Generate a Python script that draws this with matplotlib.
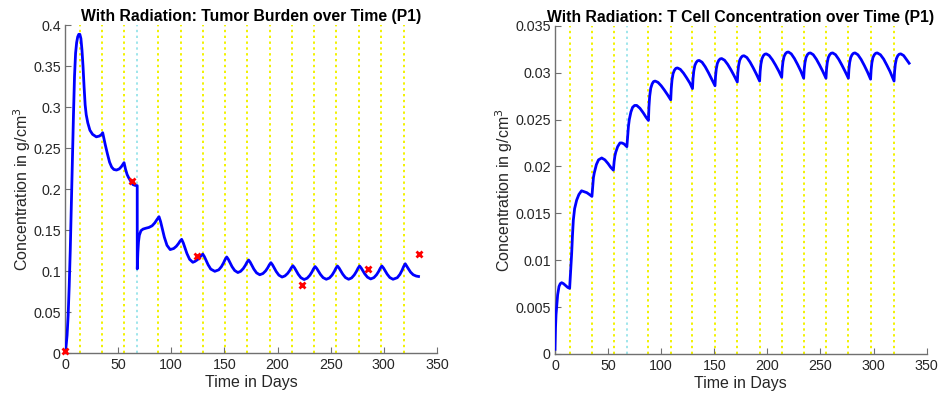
import matplotlib
matplotlib.use("Agg")
import matplotlib.pyplot as plt

plt.rcParams['font.family'] = ['Liberation Sans', 'DejaVu Sans']

# ---------------- data ----------------
dose_days = [14, 35, 56, 88, 109, 129.5, 150.7, 171.7, 192.7, 213.5, 234.2,
             255.2, 276.3, 297.2, 319.3]
surgery_day = 68

tumor_days = [
    0, 1, 2, 3, 4, 5, 6, 7, 8, 9, 10, 11, 12, 13, 14, 15, 16, 17, 18, 19, 20,
    21.5, 23.5, 26, 29.5, 32.5, 34.5, 35.5, 36.5, 38, 40, 42, 44, 46, 48.5, 51,
    53, 55.6, 57, 58.5, 60, 62, 64, 66, 68, 68.05, 68.6, 69.2, 70, 71.5, 73.5,
    76, 79, 82, 84.5, 86.5, 88.5,
    90.0, 91.5, 93.5, 96.0, 99.0, 102.3, 104.8, 106.8, 108.3, 109.8,
    111.3, 112.8, 114.8, 117.3, 120.3, 122.2, 124.7, 126.7, 128.2, 129.7,
    131.2, 132.7, 134.7, 137.2, 141.0, 144.7, 147.2, 149.2, 150.7, 152.2,
    153.7, 155.2, 157.2, 159.7, 162.7, 165.3, 167.8, 169.8, 171.3, 172.8,
    174.3, 175.8, 177.8, 180.3, 183.3, 186.3, 188.8, 190.8, 192.3, 193.8,
    195.3, 196.8, 198.8, 201.3, 204.3, 207.0, 209.5, 211.5, 213.0, 214.5,
    216.0, 217.5, 219.5, 222.0, 225.0, 227.9, 230.4, 232.4, 233.9, 235.4,
    236.9, 238.4, 240.4, 242.9, 245.9, 248.9, 251.4, 253.4, 254.9, 256.4,
    257.9, 259.4, 261.4, 263.9, 266.9, 269.7, 272.2, 274.2, 275.7, 277.2,
    278.7, 280.2, 282.2, 284.7, 287.7, 290.7, 293.2, 295.2, 296.7, 298.2,
    299.7, 301.2, 303.2, 305.7, 308.7, 312.7, 315.2, 317.2, 318.7, 320.2,
    321.7, 323.2, 325.2, 327.7, 330.5, 332.7]
tumor_vals = [
    0.003, 0.008, 0.022, 0.046, 0.082, 0.126, 0.178, 0.235, 0.290, 0.338,
    0.366, 0.379, 0.386, 0.389, 0.389, 0.384, 0.370, 0.350, 0.325, 0.303,
    0.291, 0.281, 0.272, 0.267, 0.264, 0.265, 0.267, 0.269, 0.263, 0.254,
    0.243, 0.233, 0.227, 0.2242, 0.2235, 0.2248, 0.2275, 0.2325, 0.2245,
    0.218, 0.214, 0.2095, 0.2058, 0.2048, 0.2045, 0.103, 0.123, 0.136, 0.144,
    0.1495, 0.1515, 0.1525, 0.1535, 0.1555, 0.159, 0.163, 0.1666,
    0.1606, 0.1526, 0.1417, 0.1317, 0.1265, 0.1278, 0.1305, 0.1338, 0.1368, 0.139,
    0.1348, 0.1292, 0.1216, 0.1146, 0.1110, 0.1120, 0.1142, 0.1168, 0.1192, 0.1210,
    0.1179, 0.1137, 0.1080, 0.1027, 0.1000, 0.1018, 0.1056, 0.1102, 0.1144, 0.1175,
    0.1147, 0.1109, 0.1057, 0.1010, 0.0985, 0.1000, 0.1034, 0.1074, 0.1111, 0.1138,
    0.1111, 0.1075, 0.1026, 0.0981, 0.0958, 0.0973, 0.1005, 0.1043, 0.1079, 0.1105,
    0.1079, 0.1044, 0.0997, 0.0953, 0.0930, 0.0944, 0.0974, 0.1010, 0.1043, 0.1068,
    0.1043, 0.1009, 0.0964, 0.0922, 0.0900, 0.0916, 0.0951, 0.0992, 0.1030, 0.1058,
    0.1035, 0.1004, 0.0962, 0.0923, 0.0903, 0.0919, 0.0955, 0.0997, 0.1036, 0.1065,
    0.1041, 0.1008, 0.0965, 0.0924, 0.0903, 0.0919, 0.0955, 0.0997, 0.1036, 0.1065,
    0.1041, 0.1010, 0.0967, 0.0928, 0.0907, 0.0923, 0.0958, 0.0999, 0.1037, 0.1065,
    0.1041, 0.1008, 0.0965, 0.0924, 0.0903, 0.0922, 0.0963, 0.1013, 0.1058, 0.1092,
    0.1060, 0.1030, 0.0990, 0.0958, 0.0942, 0.0937]

obs_days = [0, 62.8, 124, 222.8, 285.3, 333.3]
obs_vals = [0.003, 0.210, 0.119, 0.0833, 0.1024, 0.1215]

tcell_days = [
    0, 0.5, 1, 1.6, 2.5, 3.8, 5, 6.3, 8, 10, 12, 13.8, 14.3, 15, 15.7, 16.5,
    17.3, 18.5, 20.4, 22.5, 25, 27.5, 30, 32.5, 34.8, 35.5, 36.2, 37, 39, 41,
    44, 47, 50, 52.5, 55, 55.7, 56.4, 57.2, 59, 61.2, 63, 65, 67.7, 68.5, 69.2,
    70, 71.5, 73.1, 75, 77, 80, 83.2, 86, 88,
    88.5, 89.2, 90.2, 91.5, 92.8, 94.3, 97, 100, 103, 106, 109,
    109.5, 110.2, 111.2, 112.5, 113.8, 115.3, 118, 121, 124, 127, 129.5,
    130, 130.7, 131.7, 133, 134.3, 135.8, 138.5, 141.5, 144.5, 147.5, 150.7,
    151.2, 151.9, 152.9, 154.2, 155.5, 157, 159.7, 162.7, 165.7, 168.7, 171.7,
    172.2, 172.9, 173.9, 175.2, 176.5, 178, 180.7, 183.7, 186.7, 189.7, 192.7,
    193.2, 193.9, 194.9, 196.2, 197.5, 199, 201.7, 204.7, 207.7, 210.7, 213.5,
    214, 214.7, 215.7, 217, 218.3, 219.8, 222.5, 225.5, 228.5, 231.5, 234.2,
    234.7, 235.4, 236.4, 237.7, 239, 240.5, 243.2, 246.2, 249.2, 252.2, 255.2,
    255.7, 256.4, 257.4, 258.7, 260, 261.5, 264.2, 267.2, 270.2, 273.2, 276.3,
    276.8, 277.5, 278.5, 279.8, 281.1, 282.6, 285.3, 288.3, 291.3, 294.3, 297.2,
    297.7, 298.4, 299.4, 300.7, 302, 303.5, 306.5, 309.5, 312.5, 315.5, 319.3,
    319.8, 320.5, 321.5, 322.8, 324.1, 325.6, 328.3, 331, 333.5]
tcell_vals = [
    0.0005, 0.0028, 0.0042, 0.0051, 0.0063, 0.0072, 0.0075, 0.0076, 0.0075,
    0.0073, 0.0071, 0.0070, 0.0080, 0.0095, 0.0107, 0.0127, 0.0143, 0.0155,
    0.0164, 0.0170, 0.0174, 0.0173, 0.0172, 0.0170, 0.0168, 0.0178, 0.0188,
    0.0193, 0.0202, 0.0207, 0.0209, 0.0207, 0.0203, 0.0199, 0.0196, 0.0205,
    0.0211, 0.0215, 0.0221, 0.0225, 0.0225, 0.0224, 0.0221, 0.0232, 0.0243,
    0.0250, 0.0258, 0.0263, 0.0265, 0.0265, 0.0262, 0.0257, 0.0252, 0.0249,
    0.02637, 0.0275, 0.02834, 0.0288, 0.02904, 0.0291, 0.02896, 0.0286, 0.02814, 0.02764, 0.0271,
    0.02829, 0.02921, 0.02989, 0.03026, 0.03045, 0.0305, 0.03035, 0.02995, 0.02944, 0.02889, 0.0283,
    0.02935, 0.03016, 0.03076, 0.03109, 0.03126, 0.0313, 0.03111, 0.03062, 0.0300, 0.02933, 0.0286,
    0.02962, 0.0304, 0.03098, 0.0313, 0.03146, 0.0315, 0.03132, 0.03087, 0.0303, 0.02967, 0.0290,
    0.02998, 0.03074, 0.0313, 0.0316, 0.03176, 0.0318, 0.03161, 0.03112, 0.0305, 0.02983, 0.0291,
    0.03012, 0.0309, 0.03148, 0.0318, 0.03196, 0.0320, 0.03182, 0.03137, 0.0308, 0.03017, 0.0295,
    0.03045, 0.03117, 0.03171, 0.03201, 0.03216, 0.0322, 0.0320, 0.0315, 0.03086, 0.03016, 0.0294,
    0.03035, 0.03107, 0.03161, 0.03191, 0.03206, 0.0321, 0.03191, 0.03142, 0.0308, 0.03013, 0.0294,
    0.03035, 0.03107, 0.03161, 0.03191, 0.03206, 0.0321, 0.03191, 0.03142, 0.0308, 0.03013, 0.0294,
    0.03035, 0.03107, 0.03161, 0.03191, 0.03206, 0.0321, 0.0319, 0.0314, 0.03076, 0.03006, 0.0293,
    0.03028, 0.03104, 0.0316, 0.0319, 0.03206, 0.0321, 0.0319, 0.03144, 0.0308, 0.03012, 0.0291,
    0.03012, 0.0309, 0.03148, 0.0318, 0.03196, 0.0320, 0.03182, 0.0314, 0.0310]

left_yticks = [0, 0.05, 0.1, 0.15, 0.2, 0.25, 0.3, 0.35, 0.4]
left_yticklabels = ['0', '0.05', '0.1', '0.15', '0.2', '0.25', '0.3', '0.35', '0.4']
right_yticks = [0, 0.005, 0.01, 0.015, 0.02, 0.025, 0.03, 0.035]
right_yticklabels = ['0', '0.005', '0.01', '0.015', '0.02', '0.025', '0.03', '0.035']
xticks = [0, 50, 100, 150, 200, 250, 300, 350]

titles = ['With Radiation: Tumor Burden over Time (P1)',
          'With Radiation: T Cell Concentration over Time (P1)']
xlabel = 'Time in Days'
ylabel = 'Concentration in g/cm$^3$'

# ---------------- drawing ----------------
fig = plt.figure(figsize=(9.4, 4.03), dpi=100)
ax1 = fig.add_axes([0.0691, 0.1233, 0.3957, 0.8139])
ax2 = fig.add_axes([0.5904, 0.1216, 0.3954, 0.8146])

axis_col = '#262626'
dose_col = '#f2f200'
surg_col = '#9fe6ec'


def style(ax, ylim, yticks, yticklabels):
    ax.set_xlim(0, 350)
    ax.set_ylim(*ylim)
    ax.set_xticks(xticks)
    ax.set_xticklabels([str(t) for t in xticks])
    ax.set_yticks(yticks)
    ax.set_yticklabels(yticklabels)
    for s in ['top', 'right']:
        ax.spines[s].set_visible(False)
    for s in ['left', 'bottom']:
        ax.spines[s].set_color('#707070')
        ax.spines[s].set_linewidth(1.0)
    ax.tick_params(direction='in', length=4, width=0.8, colors='#707070',
                   labelcolor=axis_col, labelsize=10.3)
    ax.tick_params(axis='y', pad=3)
    ax.set_xlabel(xlabel, fontsize=11.5, color=axis_col, labelpad=2)
    ax.set_ylabel(ylabel, fontsize=11.5, color=axis_col, labelpad=0)


for ax, ylim in [(ax1, (0, 0.4)), (ax2, (0, 0.035))]:
    for d in dose_days:
        ax.axvline(d, color=dose_col, linestyle=(0, (1.2, 1.8)), linewidth=1.4, zorder=1)
    ax.axvline(surgery_day, color=surg_col, linestyle=(0, (1.2, 1.8)), linewidth=1.4, zorder=1)

ax1.plot(tumor_days, tumor_vals, color='#0000ff', linewidth=2.0, zorder=3)
ax1.plot(obs_days, obs_vals, linestyle='none', marker='x', color='#ff0000',
         markersize=5, markeredgewidth=2.0, zorder=4, clip_on=False)
ax2.plot(tcell_days, tcell_vals, color='#0000ff', linewidth=2.0, zorder=3)

style(ax1, (0, 0.4), left_yticks, left_yticklabels)
style(ax2, (0, 0.035), right_yticks, right_yticklabels)

ax1.set_title(titles[0], fontsize=11.3, fontweight='bold', pad=3)
ax2.set_title(titles[1], fontsize=11.3, fontweight='bold', pad=3)

fig.savefig('out.png', dpi=100)
